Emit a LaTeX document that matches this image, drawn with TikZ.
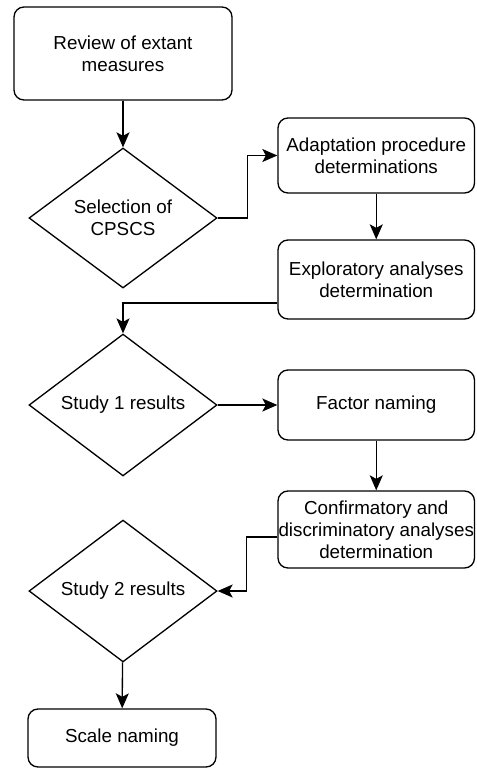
\documentclass[tikz,border=0pt]{standalone}
\usepackage{fontspec}
\setmainfont{Liberation Sans}
\usetikzlibrary{shapes.geometric,arrows.meta}

\begin{document}
\begin{tikzpicture}[
        procbox/.style={draw, rounded corners=0.2cm, align=center, line width=0.75pt, inner sep=0pt},
        decision/.style={draw, diamond, align=center, line width=0.75pt, inner sep=0pt,
            minimum width=3.76cm, minimum height=2.8cm},
        flow/.style={-{Stealth[length=0.3cm,width=0.26cm,inset=0.07cm]}, line width=0.75pt},
        font=\fontsize{10.7}{12.4}\selectfont]
            \useasboundingbox (0, 0) rectangle (9.52, -15.38);

            \node[procbox, minimum width=4.36cm, minimum height=1.86cm] (review) at (2.46, -1.07) {Review of extant\\measures};
            \node[decision] (select) at (2.46, -4.36) {Selection of\\CPSCS};
            \node[procbox, minimum width=3.93cm, minimum height=1.5cm] (adapt) at (7.525, -3.11) {Adaptation procedure\\determinations};
            \node[procbox, minimum width=3.93cm, minimum height=1.58cm] (explore) at (7.525, -5.59) {Exploratory analyses\\determination};

            \node[decision] (study1) at (2.46, -8.1) {Study 1 results};
            \node[procbox, minimum width=3.93cm, minimum height=1.4cm] (factor) at (7.525, -8.1) {Factor naming};
            \node[procbox, minimum width=3.93cm, minimum height=1.54cm] (confirm) at (7.525, -10.59) {Confirmatory and\\discriminatory analyses\\determination};

            \node[decision] (study2) at (2.46, -11.82) {Study 2 results};
            \node[procbox, minimum width=3.76cm, minimum height=1.16cm] (scale) at (2.44, -14.76) {Scale naming};

            \draw[flow] (review) -- (select);
            \draw[flow] (select.east) -- ++(0.6, 0) |- (adapt.west);
            \draw[flow] (adapt) -- (explore);
            \draw[flow] ([yshift=-0.47cm]explore.west) -| (study1.north);
            \draw[flow] (study1) -- (factor);
            \draw[flow] (factor) -- (confirm);
            \draw[flow] ([yshift=-0.15cm]confirm.west) -- ++(-0.62, 0) |- (study2.east);
            \draw[flow] (study2) -- (scale);
        \end{tikzpicture}
\end{document}
